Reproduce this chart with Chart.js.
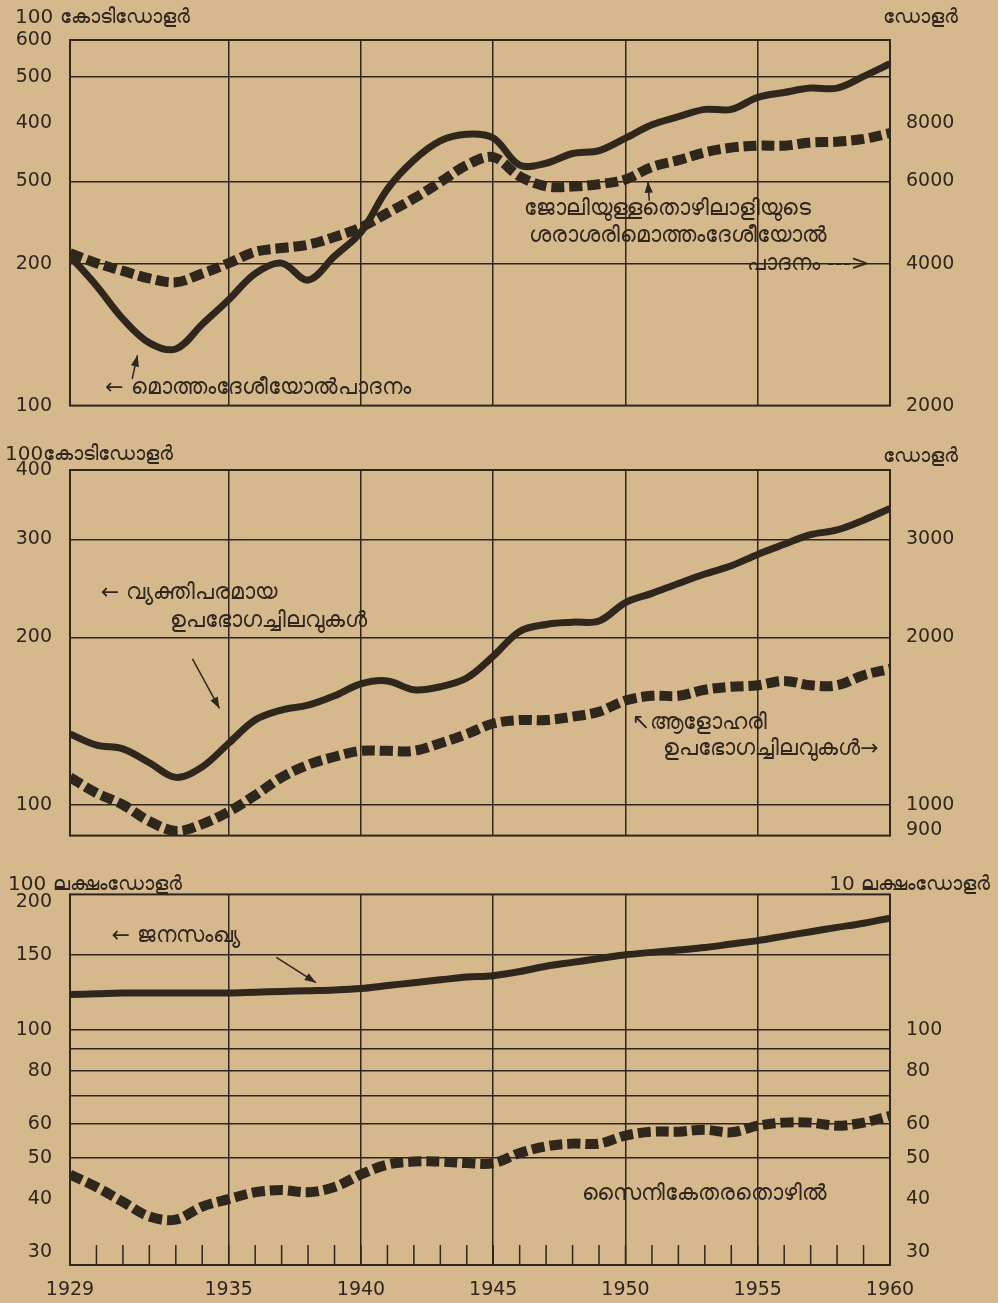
<!DOCTYPE html>
<html>
<head>
<meta charset="utf-8">
<script src="https://cdn.jsdelivr.net/npm/chart.js@4"></script>
<style>
  body { margin: 0; background: #d5b88c; width: 998px; height: 1303px; overflow: hidden; }
  canvas { position: absolute; left: 0; }
</style>
</head>
<body>
<canvas id="c1" width="998" height="435" style="top:0"></canvas>
<canvas id="c2" width="998" height="425" style="top:440px"></canvas>
<canvas id="c3" width="998" height="438" style="top:865px"></canvas>
<script>
// years 1929 - 1960
var years = [1929, 1930, 1931, 1932, 1933, 1934, 1935, 1936, 1937, 1938, 1939, 1940,
  1941, 1942, 1943, 1944, 1945, 1946, 1947, 1948, 1949, 1950,
  1951, 1952, 1953, 1954, 1955, 1956, 1957, 1958, 1959, 1960];
var yearTicks = [1929, 1935, 1940, 1945, 1950, 1955, 1960];

// panel 1 - മൊത്തം ദേശീയോൽപാദനം (100 കോടി ഡോളർ) / per worker (ഡോളർ)
var gnp = [208, 180, 153, 136, 132, 149, 168, 191, 201, 185, 208, 234,
  289, 333, 366, 378, 371, 325, 328, 344, 349, 371,
  396, 412, 427, 427, 453, 464, 474, 474, 502, 534];
var gnpPerWorker = [4220, 4020, 3870, 3730, 3660, 3820, 4020, 4250, 4330, 4400, 4570, 4790,
  5140, 5520, 5980, 6500, 6760, 6150, 5860, 5850, 5920, 6060,
  6440, 6660, 6920, 7080, 7150, 7150, 7260, 7290, 7390, 7600];

// panel 2 - ഉപഭോഗച്ചിലവുകൾ
var consumption = [134, 128, 126, 119, 112, 117, 129, 142, 148, 151, 157, 165,
  167, 161, 163, 169, 185, 205, 211, 213, 214, 231,
  240, 250, 260, 269, 282, 294, 306, 312, 325, 341];
var consumptionPerCapita = [1120, 1050, 1000, 934, 897, 923, 972, 1040, 1120, 1180, 1220, 1250,
  1250, 1250, 1290, 1340, 1400, 1420, 1420, 1440, 1470, 1540,
  1570, 1570, 1610, 1630, 1640, 1670, 1640, 1640, 1710, 1755];

// panel 3 - ജനസംഖ്യ, സൈനികേതര തൊഴിൽ
var population = [121, 121.5, 122, 122, 122, 122, 122, 122.5, 123, 123.5, 124, 125,
  127, 129, 131, 133, 134, 137, 141, 144, 147, 150,
  152, 154, 156, 159, 162, 166, 170, 174, 178, 183];
var employment = [45.7, 42.7, 39.4, 36.4, 35.8, 38.4, 40, 41.5, 42, 41.5, 42.7, 45.7,
  48.2, 49, 49, 48.6, 48.6, 51.3, 53.2, 54, 54, 56.4,
  57.6, 57.6, 58.2, 57.4, 59.5, 60.5, 60.5, 59.5, 60.5, 62.8];

// tick labels
var p1Left = [100, 200, 300, 400, 500, 600];
var p1LeftText = ['100', '200', '500', '400', '500', '600'];
var p1Right = [2000, 4000, 6000, 8000];
var p2Left = [100, 200, 300, 400];
var p2Right = [900, 1000, 2000, 3000];
var p3Left = [30, 40, 50, 60, 80, 100, 150, 200];
var p3Right = [30, 40, 50, 60, 80, 100];
var p3Grid = [50, 60, 70, 80, 90, 100, 150];

var INK = '#2f261c';
var FONT = 'DejaVu Sans';

function pts(arr) {
  return years.map(function (y, i) { return { x: y, y: arr[i] }; });
}

// text, arrows and frame
var notesPlugin = {
  id: 'notes',
  afterDatasetsDraw: function (chart, args, opts) {
    var ctx = chart.ctx, a = chart.chartArea, sx = chart.scales.x;
    ctx.save();
    ctx.strokeStyle = INK;
    ctx.lineWidth = 2;
    ctx.strokeRect(a.left, a.top, a.right - a.left, a.bottom - a.top);
    ctx.fillStyle = INK;
    ctx.font = '22px ' + FONT;
    ctx.textBaseline = 'middle';
    (opts.items || []).forEach(function (n) {
      ctx.textAlign = n.align || 'center';
      ctx.fillText(n.text, sx.getPixelForValue(n.x), chart.scales[n.axis || 'y'].getPixelForValue(n.y));
    });
    (opts.arrows || []).forEach(function (r) {
      var sy = chart.scales.y;
      var x1 = sx.getPixelForValue(r[0]), y1 = sy.getPixelForValue(r[1]);
      var x2 = sx.getPixelForValue(r[2]), y2 = sy.getPixelForValue(r[3]);
      var ang = Math.atan2(y2 - y1, x2 - x1);
      ctx.lineWidth = 1.5;
      ctx.beginPath(); ctx.moveTo(x1, y1); ctx.lineTo(x2, y2); ctx.stroke();
      ctx.beginPath();
      ctx.moveTo(x2, y2);
      ctx.lineTo(x2 - 12 * Math.cos(ang - 0.35), y2 - 12 * Math.sin(ang - 0.35));
      ctx.lineTo(x2 - 12 * Math.cos(ang + 0.35), y2 - 12 * Math.sin(ang + 0.35));
      ctx.closePath(); ctx.fill();
    });
    ctx.font = '20px ' + FONT;
    ctx.textBaseline = 'middle';
    (opts.headers || []).forEach(function (h) {
      ctx.textAlign = h.align;
      ctx.fillText(h.text, h.align === 'left' ? a.left + h.dx : a.right + h.dx, a.top + h.dy);
    });
    // small year ticks on the bottom edge
    if (opts.yearMarks) {
      ctx.lineWidth = 1.5;
      years.forEach(function (y) {
        var x = sx.getPixelForValue(y);
        ctx.beginPath(); ctx.moveTo(x, a.bottom); ctx.lineTo(x, a.bottom - 20); ctx.stroke();
      });
    }
    ctx.restore();
  }
};

function makePanel(id, cfg) {
  var tickFont = { family: FONT, size: 19 };
  return new Chart(document.getElementById(id), {
    type: 'line',
    data: {
      datasets: [
        {
          data: pts(cfg.solid), yAxisID: cfg.solidAxis,
          borderColor: INK, borderWidth: 7, pointRadius: 0, tension: 0.35,
          borderJoinStyle: 'round'
        },
        {
          data: pts(cfg.dashed), yAxisID: cfg.dashedAxis,
          borderColor: INK, borderWidth: 10, pointRadius: 0, tension: 0.35,
          borderDash: [13, 5], borderCapStyle: 'butt'
        }
      ]
    },
    options: {
      responsive: false,
      animation: false,
      layout: { padding: { top: cfg.padTop, left: 0, right: 0, bottom: 0 } },
      plugins: { legend: { display: false }, tooltip: { enabled: false }, notes: cfg.notes },
      scales: {
        x: {
          type: 'linear', min: 1929, max: 1960,
          afterBuildTicks: function (s) { s.ticks = yearTicks.map(function (v) { return { value: v }; }); },
          afterFit: function (s) { s.height = cfg.xHeight; },
          grid: {
            drawTicks: false, lineWidth: 1.5,
            color: function (c) { return (c.tick && (c.tick.value === 1929 || c.tick.value === 1960)) ? 'rgba(0,0,0,0)' : INK; }
          },
          border: { display: false },
          ticks: {
            display: cfg.showYears, autoSkip: false, maxRotation: 0, padding: 14,
            color: INK, font: tickFont,
            callback: function (v) { return String(v); }
          }
        },
        y: {
          type: 'logarithmic', position: 'left', min: cfg.left[0], max: cfg.left[1],
          afterBuildTicks: function (s) {
            var vals = cfg.leftTicks.concat(cfg.grid.filter(function (g) { return cfg.leftTicks.indexOf(g) < 0; }));
            s.ticks = vals.map(function (v) { return { value: v }; });
          },
          afterFit: function (s) { s.width = 70; },
          border: { display: false },
          grid: {
            drawTicks: false, lineWidth: 1.5,
            color: function (c) { return (c.tick && cfg.grid.indexOf(c.tick.value) >= 0) ? INK : 'rgba(0,0,0,0)'; }
          },
          ticks: {
            autoSkip: false, padding: 18, color: INK, font: tickFont,
            callback: function (v) {
              var i = cfg.leftTicks.indexOf(v);
              return i >= 0 ? cfg.leftText[i] : '';
            }
          }
        },
        y1: {
          type: 'logarithmic', position: 'right', min: cfg.right[0], max: cfg.right[1],
          afterBuildTicks: function (s) { s.ticks = cfg.rightTicks.map(function (v) { return { value: v }; }); },
          afterFit: function (s) { s.width = 108; },
          border: { display: false },
          grid: { display: false },
          ticks: {
            autoSkip: false, padding: 8, color: INK, font: tickFont,
            callback: function (v) { return String(v); }
          }
        }
      }
    },
    plugins: [notesPlugin]
  });
}

makePanel('c1', {
  solid: gnp, solidAxis: 'y', dashed: gnpPerWorker, dashedAxis: 'y1',
  left: [100, 600], right: [2000, 12000],
  leftTicks: p1Left, leftText: p1LeftText, rightTicks: p1Right, grid: [200, 300, 500],
  padTop: 40, xHeight: 15, showYears: false,
  notes: {
    headers: [
      { text: '100 കോടിഡോളർ', align: 'left', dx: -55, dy: -22 },
      { text: 'ഡോളർ', align: 'right', dx: 68, dy: -22 }
    ],
    items: [
      { x: 1951.6, y: 262, text: 'ജോലിയുള്ളതൊഴിലാളിയുടെ' },
      { x: 1952.0, y: 229, text: 'ശരാശരിമൊത്തംദേശീയോൽ' },
      { x: 1956.9, y: 200, text: 'പാദനം --->' },
      { x: 1936.1, y: 109, text: '← മൊത്തംദേശീയോൽപാദനം' }
    ],
    arrows: [[1950.9, 273, 1950.85, 300], [1931.35, 114, 1931.55, 128]]
  }
});

makePanel('c2', {
  solid: consumption, solidAxis: 'y', dashed: consumptionPerCapita, dashedAxis: 'y1',
  left: [88, 400], right: [880, 4000],
  leftTicks: p2Left, leftText: ['100', '200', '300', '400'], rightTicks: p2Right, grid: [100, 200, 300],
  padTop: 30, xHeight: 15, showYears: false,
  notes: {
    headers: [
      { text: '100കോടിഡോളർ', align: 'left', dx: -65, dy: -15 },
      { text: 'ഡോളർ', align: 'right', dx: 68, dy: -13 }
    ],
    items: [
      { x: 1933.5, y: 240, text: '← വ്യക്തിപരമായ' },
      { x: 1936.5, y: 214, text: 'ഉപഭോഗച്ചിലവുകൾ' },
      { x: 1952.8, y: 140, text: '↖ആളോഹരി' },
      { x: 1955.5, y: 126, text: 'ഉപഭോഗച്ചിലവുകൾ→' }
    ],
    arrows: [[1933.63, 183, 1934.65, 149]]
  }
});

makePanel('c3', {
  solid: population, solidAxis: 'y', dashed: employment, dashedAxis: 'y1',
  left: [28, 208], right: [28, 208],
  leftTicks: p3Left, leftText: p3Left.map(String), rightTicks: p3Right, grid: p3Grid,
  padTop: 20, xHeight: 38, showYears: true,
  notes: {
    headers: [
      { text: '100 ലക്ഷംഡോളർ', align: 'left', dx: -62, dy: -10 },
      { text: '10 ലക്ഷംഡോളർ', align: 'right', dx: 100, dy: -10 }
    ],
    items: [
      { x: 1933, y: 166, text: '← ജനസംഖ്യ' },
      { x: 1953, y: 41, text: 'സൈനികേതരതൊഴിൽ' }
    ],
    arrows: [[1936.8, 148, 1938.3, 129]],
    yearMarks: true
  }
});
</script>
</body>
</html>
